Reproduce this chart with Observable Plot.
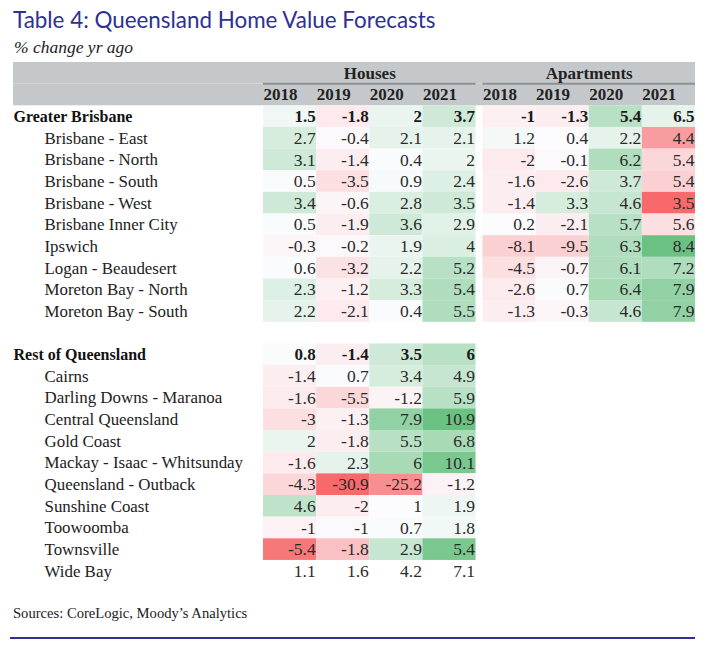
<!DOCTYPE html>
<html><head><meta charset="utf-8">
<script src="https://cdn.jsdelivr.net/npm/d3@7"></script>
<script src="https://cdn.jsdelivr.net/npm/@observablehq/plot@0.6"></script>
<style>
body{margin:0;background:#fff;}
#wrap{width:706px;}
.title{height:38px;line-height:40px;padding-left:13px;font-family:Lato,sans-serif;font-size:22.4px;color:#2e3192;white-space:nowrap;}
.subtitle{height:22px;line-height:18px;padding-left:14px;font-family:"Liberation Serif",serif;font-style:italic;font-size:17.5px;color:#222;}
.caption{padding-top:14px;line-height:18px;height:18px;padding-left:13px;font-family:"Liberation Serif",serif;font-size:14.6px;color:#222;}
.rule{margin:15px 11px 0 10px;border-top:2px solid #2e3192;}
</style></head><body>
<div id="wrap">
<div class="title">Table 4: Queensland Home Value Forecasts</div>
<div class="subtitle">% change yr ago</div>
<div id="chart"></div>
<div class="caption">Sources: CoreLogic, Moody’s Analytics</div>
<div class="rule"></div>
</div>
<script>
// ---- data ----
const groups = ["Houses", "Apartments"];
const years = ["2018", "2019", "2020", "2021"];

const brisbaneRegions = ["Greater Brisbane", "Brisbane - East", "Brisbane - North", "Brisbane - South",
  "Brisbane - West", "Brisbane Inner City", "Ipswich", "Logan - Beaudesert",
  "Moreton Bay - North", "Moreton Bay - South"];
const restRegions = ["Rest of Queensland", "Cairns", "Darling Downs - Maranoa", "Central Queensland",
  "Gold Coast", "Mackay - Isaac - Whitsunday", "Queensland - Outback", "Sunshine Coast",
  "Toowoomba", "Townsville", "Wide Bay"];

const housesBrisbane = [
  [1.5, -1.8, 2, 3.7], [2.7, -0.4, 2.1, 2.1], [3.1, -1.4, 0.4, 2], [0.5, -3.5, 0.9, 2.4],
  [3.4, -0.6, 2.8, 3.5], [0.5, -1.9, 3.6, 2.9], [-0.3, -0.2, 1.9, 4], [0.6, -3.2, 2.2, 5.2],
  [2.3, -1.2, 3.3, 5.4], [2.2, -2.1, 0.4, 5.5]];
const apartmentsBrisbane = [
  [-1, -1.3, 5.4, 6.5], [1.2, 0.4, 2.2, 4.4], [-2, -0.1, 6.2, 5.4], [-1.6, -2.6, 3.7, 5.4],
  [-1.4, 3.3, 4.6, 3.5], [0.2, -2.1, 5.7, 5.6], [-8.1, -9.5, 6.3, 8.4], [-4.5, -0.7, 6.1, 7.2],
  [-2.6, 0.7, 6.4, 7.9], [-1.3, -0.3, 4.6, 7.9]];
const housesRest = [
  [0.8, -1.4, 3.5, 6], [-1.4, 0.7, 3.4, 4.9], [-1.6, -5.5, -1.2, 5.9], [-3, -1.3, 7.9, 10.9],
  [2, -1.8, 5.5, 6.8], [-1.6, 2.3, 6, 10.1], [-4.3, -30.9, -25.2, -1.2], [4.6, -2, 1, 1.9],
  [-1, -1, 0.7, 1.8], [-5.4, -1.8, 2.9, 5.4], [1.1, 1.6, 4.2, 7.1]];

// conditional-format score read from the shading (-1 = deepest red, +1 = deepest green, null = unshaded)
const housesBrisbaneScore = [
  [0.08, -0.12, 0.12, 0.3], [0.25, -0.03, 0.15, 0.15], [0.3, -0.1, 0.02, 0.12], [0.02, -0.2, 0.03, 0.2],
  [0.3, -0.05, 0.22, 0.3], [0.02, -0.1, 0.3, 0.18], [-0.04, -0.03, 0.12, 0.22], [0.02, -0.18, 0.15, 0.45],
  [0.2, -0.08, 0.25, 0.5], [0.15, -0.12, 0.01, 0.5]];
const apartmentsBrisbaneScore = [
  [-0.08, -0.1, 0.45, 0.15], [0.05, 0, 0.15, -0.65], [-0.12, -0.02, 0.5, -0.25], [-0.1, -0.12, 0.3, -0.3],
  [-0.1, 0.25, 0.35, -1], [0, -0.1, 0.45, -0.2], [-0.3, -0.3, 0.5, 0.95], [-0.2, -0.05, 0.5, 0.5],
  [-0.12, 0.02, 0.55, 0.7], [-0.1, -0.04, 0.35, 0.7]];
const housesRestScore = [
  [0.02, -0.1, 0.3, 0.45], [-0.1, 0.01, 0.25, 0.35], [-0.12, -0.25, -0.06, 0.45], [-0.2, -0.08, 0.7, 0.95],
  [0.12, -0.1, 0.45, 0.55], [-0.12, 0.15, 0.55, 0.85], [-0.25, -1, -0.75, -0.07], [0.4, -0.1, 0, 0.1],
  [-0.07, -0.02, 0.02, 0.07], [-0.9, -0.4, 0.35, 0.85], [null, null, null, null]];

// ---- build table ----
const GAP = 0.13;
const colPos = k => k + (k >= 4 ? GAP : 0);
const headerRows = ["h1", "h2"];
const rowKeys = [...headerRows, ...brisbaneRegions, "blank", ...restRegions];

const cells = [];
function addBlock(regions, values, scores, g) {
  regions.forEach((name, i) => {
    values[i].forEach((v, j) => {
      const k = g * 4 + j;
      cells.push({row: name, x1: colPos(k), x2: colPos(k) + 1, value: v, score: scores[i][j], bold: i === 0});
    });
  });
}
addBlock(brisbaneRegions, housesBrisbane, housesBrisbaneScore, 0);
addBlock(brisbaneRegions, apartmentsBrisbane, apartmentsBrisbaneScore, 1);
addBlock(restRegions, housesRest, housesRestScore, 0);

const labels = [...brisbaneRegions.map((n, i) => ({name: n, bold: i === 0})),
                ...restRegions.map((n, i) => ({name: n, bold: i === 0}))];

const groupHeads = groups.map((g, gi) => ({name: g, x1: colPos(gi * 4), x2: colPos(gi * 4) + 4, xm: colPos(gi * 4) + 2}));
const yearHeads = [];
groups.forEach((g, gi) => years.forEach((y, j) => yearHeads.push({year: y, x: colPos(gi * 4 + j)})));

const BAND = 21.65;
const chart = Plot.plot({
  width: 706,
  height: 530,
  marginLeft: 13,
  marginRight: 11,
  marginTop: 0,
  marginBottom: 0,
  style: {fontFamily: "'Liberation Serif', serif", fontSize: "16px", color: "#222", background: "white"},
  x: {type: "linear", domain: [0, 8 + GAP], range: [263, 695], axis: null},
  y: {type: "band", domain: rowKeys, range: [2, 2 + rowKeys.length * BAND], padding: 0, axis: null, round: false},
  color: {type: "linear", domain: [-1, 0, 1], range: ["#f8696b", "#fcfcff", "#63be7b"]},
  marks: [
    Plot.cell(headerRows, {y: d => d, fill: "#c5c8cb"}),
    Plot.ruleY(groupHeads, {y: () => "h1", x1: "x1", x2: "x2", dy: BAND / 2 - 0.5, stroke: "#8e9194", strokeWidth: 2}),
    Plot.text(groupHeads, {y: () => "h1", x: "xm", text: "name", fontWeight: "bold", fontSize: 17, fill: "#222"}),
    Plot.text(yearHeads, {y: () => "h2", x: "x", text: "year", textAnchor: "start", fontWeight: "bold", fontSize: 17, fill: "#222"}),
    Plot.barX(cells.filter(d => d.score != null), {x1: "x1", x2: "x2", y: "row", fill: "score"}),
    Plot.text(cells.filter(d => !d.bold), {x: "x2", y: "row", text: d => String(d.value), textAnchor: "end", dx: -1,
      fontSize: 17.5, fill: "#2a2a2a"}),
    Plot.text(cells.filter(d => d.bold), {x: "x2", y: "row", text: d => String(d.value), textAnchor: "end", dx: -1,
      fontSize: 17, fontWeight: "bold", fill: "#1a1a1a"}),
    Plot.text(labels.filter(d => d.bold), {y: "name", text: "name", frameAnchor: "left", textAnchor: "start", fontSize: 16, fontWeight: "bold", fill: "#111"}),
    Plot.text(labels.filter(d => !d.bold), {y: "name", text: "name", frameAnchor: "left", textAnchor: "start", dx: 31, fontSize: 16.9, fill: "#222"})
  ]
});
document.getElementById("chart").appendChild(chart);
</script>
</body></html>
